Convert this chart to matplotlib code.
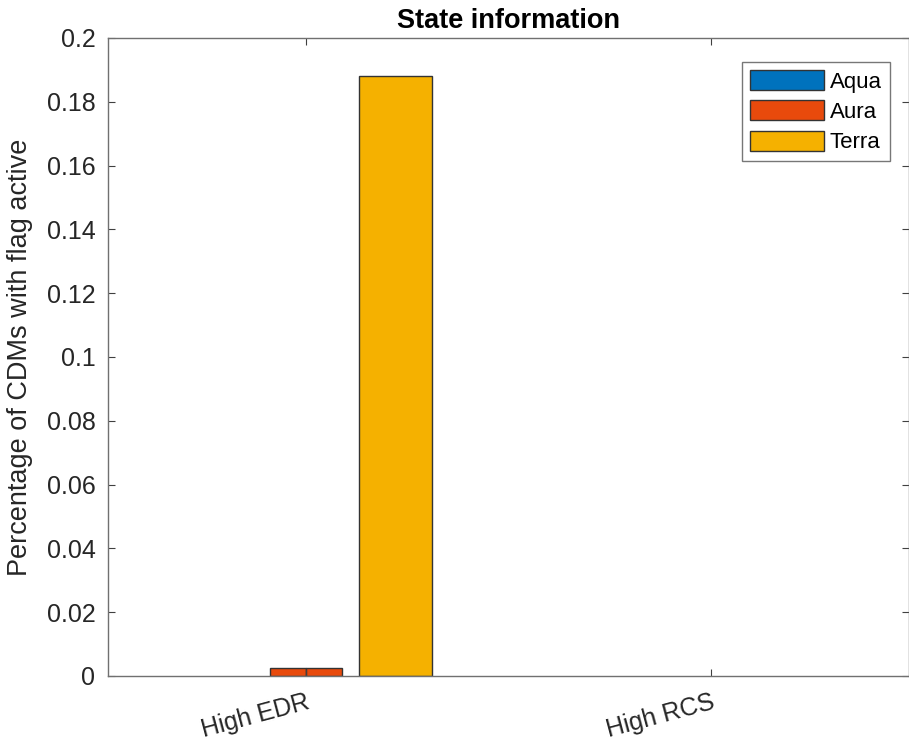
import matplotlib
matplotlib.use("Agg")
import matplotlib.pyplot as plt
import matplotlib.transforms as mtransforms
import numpy as np

plt.rcParams['font.family'] = ['Liberation Sans', 'DejaVu Sans']

categories = ["High EDR", "High RCS"]
series_names = ["Aqua", "Aura", "Terra"]
aqua = [0.0, 0.0]
aura = [0.0025, 0.0]
terra = [0.188, 0.0]
ytick_labels = ["0", "0.02", "0.04", "0.06", "0.08", "0.1", "0.12", "0.14", "0.16", "0.18", "0.2"]
colors = ["#0072BD", "#E84A0C", "#F5B100"]

fig = plt.figure(figsize=(9.09, 7.42), dpi=100)
ax = fig.add_axes([0.1188, 0.089, 0.8812, 0.8598])

x = np.arange(1, len(categories) + 1)
edge = "#333333"


def lw(vals):
    return [1.0 if v > 0 else 0.0 for v in vals]


# Aqua (zero height)
ax.bar(x - 0.22, aqua, width=0.18, color=colors[0], edgecolor=edge, linewidth=lw(aqua), label=series_names[0])
# Aura drawn as two adjacent halves
ax.bar(x - 0.0445, aura, width=0.089, color=colors[1], edgecolor=edge, linewidth=lw(aura), label=series_names[1])
ax.bar(x + 0.0445, aura, width=0.089, color=colors[1], edgecolor=edge, linewidth=lw(aura))
ax.bar(x + 0.2215, terra, width=0.179, color=colors[2], edgecolor=edge, linewidth=lw(terra), label=series_names[2])

ax.set_xlim(0.512, 2.49)
ax.set_ylim(0, 0.2)
ax.set_xticks(x)
ax.set_xticklabels(categories, rotation=15, ha="right", va="top", rotation_mode="anchor", fontsize=18)
shift = mtransforms.ScaledTranslation(4 / 100, 2 / 100, fig.dpi_scale_trans)
for lab in ax.get_xticklabels():
    lab.set_transform(lab.get_transform() + shift)
ax.set_yticks(np.arange(0, 0.2001, 0.02))
ax.set_yticklabels(ytick_labels)
ax.tick_params(axis="both", direction="in", length=5, width=0.8, colors="#404040",
               labelcolor="#262626", labelsize=18, top=True, right=True)
ax.tick_params(axis="y", pad=9)
ax.tick_params(axis="x", pad=10)
for s in ax.spines.values():
    s.set_color("#707070")
    s.set_linewidth(1.0)

ax.set_ylabel("Percentage of CDMs with flag active", fontsize=19.5, color="#262626", labelpad=10)
ax.set_title("State information", fontsize=19.5, fontweight="bold", pad=7)

leg = ax.legend(loc="upper right", bbox_to_anchor=(0.976, 0.962), fontsize=16,
                frameon=True, fancybox=False, edgecolor="#555555", handlelength=3.35,
                handleheight=1.0, handletextpad=0.25, borderpad=0.35, labelspacing=0.35,
                borderaxespad=0)
leg.get_frame().set_linewidth(1.0)
for h in leg.legend_handles:
    h.set_linewidth(1.0)

fig.savefig("out.png", dpi=100)
